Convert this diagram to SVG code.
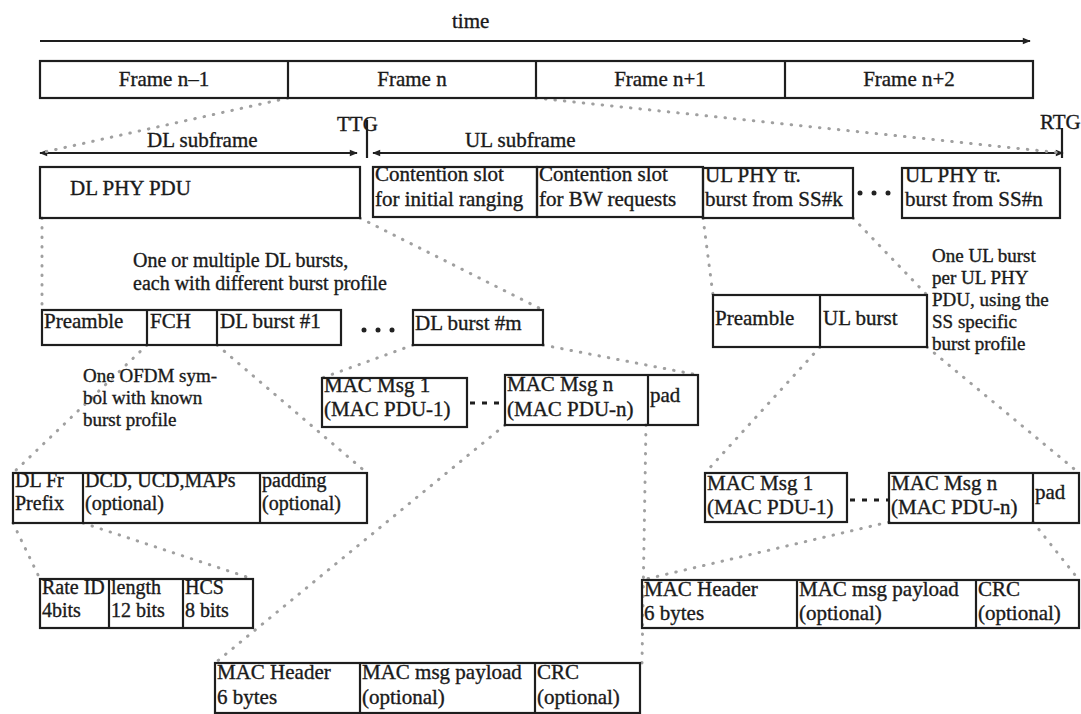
<svg xmlns="http://www.w3.org/2000/svg" width="1081" height="714" viewBox="0 0 1081 714">
<defs>
<marker id="arr" viewBox="0 0 10 10" refX="9" refY="5" markerWidth="10" markerHeight="8" orient="auto-start-reverse" markerUnits="userSpaceOnUse"><path d="M0,1 L10,5 L0,9 z" fill="#222"/></marker>
</defs>
<style>
.t{font-family:"Liberation Serif","Times New Roman",serif;font-size:21px;fill:#1a1a1a;stroke:#1a1a1a;stroke-width:0.35}
.s{font-size:20px}
.n{font-size:19px}
.b{fill:none;stroke:#1e1e1e;stroke-width:2.2}
.d{stroke:#a0a0a0;stroke-width:3;stroke-linecap:round;stroke-dasharray:0.5 9;fill:none}
.k{stroke:#1e1e1e;stroke-width:2.2;fill:none}
.e{fill:#222}
.m{stroke:#1e1e1e;stroke-width:3;stroke-dasharray:5 7;fill:none}
</style>
<rect width="1081" height="714" fill="#fff"/>
<g id="connectors">
<line class="k" x1="40" y1="41" x2="1030" y2="41" marker-end="url(#arr)"/>
<line class="k" x1="40" y1="153" x2="357" y2="153" marker-start="url(#arr)" marker-end="url(#arr)"/>
<line class="k" x1="373" y1="153" x2="1063" y2="153" marker-start="url(#arr)" marker-end="url(#arr)"/>
<line class="k" x1="367" y1="120" x2="367" y2="158"/>
<line class="k" x1="1062" y1="128" x2="1062" y2="158"/>
<line class="d" x1="288" y1="98" x2="40" y2="153"/>
<line class="d" x1="536" y1="98" x2="1062" y2="153"/>
<line class="d" x1="42" y1="218" x2="42" y2="310"/>
<line class="d" x1="360" y1="218" x2="543" y2="310"/>
<line class="d" x1="703" y1="218" x2="713" y2="295"/>
<line class="d" x1="853" y1="218" x2="927" y2="295"/>
<line class="d" x1="147" y1="345" x2="13" y2="473"/>
<line class="d" x1="217" y1="345" x2="367" y2="473"/>
<line class="d" x1="413" y1="345" x2="322" y2="378"/>
<line class="d" x1="543" y1="345" x2="698" y2="375"/>
<line class="d" x1="13" y1="523" x2="40" y2="579"/>
<line class="d" x1="83" y1="523" x2="253" y2="579"/>
<line class="d" x1="505" y1="425" x2="215" y2="663"/>
<line class="d" x1="646" y1="425" x2="642" y2="663"/>
<line class="d" x1="820" y1="347" x2="705" y2="473"/>
<line class="d" x1="927" y1="347" x2="1079" y2="473"/>
<line class="d" x1="889" y1="522" x2="642" y2="580"/>
<line class="d" x1="1033" y1="522" x2="1079" y2="580"/>
<line class="m" x1="470" y1="403" x2="505" y2="403"/>
<line class="m" x1="850" y1="500" x2="889" y2="500"/>
</g>
<g id="labels">
<text class="t" x="452" y="28">time</text>
<text class="t" x="147" y="147">DL subframe</text>
<text class="t" x="465" y="147">UL subframe</text>
<text class="t" x="337" y="131">TTG</text>
<text class="t" x="1040" y="129">RTG</text>
<text class="t s" x="133" y="267">One or multiple DL bursts,</text>
<text class="t s" x="133" y="290">each with different burst profile</text>
<text class="t n" x="83" y="382">One OFDM sym-</text>
<text class="t n" x="83" y="404">bol with known</text>
<text class="t n" x="83" y="426">burst profile</text>
<text class="t n" x="932" y="262">One UL burst</text>
<text class="t n" x="932" y="284">per UL PHY</text>
<text class="t n" x="932" y="306">PDU, using the</text>
<text class="t n" x="932" y="328">SS specific</text>
<text class="t n" x="932" y="350">burst profile</text>
</g>
<g id="frames">
<rect class="b" x="40" y="61" width="993" height="37"/>
<line class="k" x1="288" y1="61" x2="288" y2="98"/>
<line class="k" x1="536" y1="61" x2="536" y2="98"/>
<line class="k" x1="785" y1="61" x2="785" y2="98"/>
<text class="t" x="164" y="86" text-anchor="middle">Frame n–1</text>
<text class="t" x="412" y="86" text-anchor="middle">Frame n</text>
<text class="t" x="660" y="86" text-anchor="middle">Frame n+1</text>
<text class="t" x="909" y="86" text-anchor="middle">Frame n+2</text>
</g>
<g id="dl-phy-pdu">
<rect class="b" x="40" y="167" width="320" height="51"/>
<text class="t" x="70" y="195">DL PHY PDU</text>
</g>
<g id="contention-ranging">
<rect class="b" x="373" y="167" width="164" height="50"/>
<text class="t" x="375" y="181">Contention slot</text>
<text class="t" x="375" y="206">for initial ranging</text>
</g>
<g id="contention-bw">
<rect class="b" x="537" y="167" width="166" height="50"/>
<text class="t" x="539" y="181">Contention slot</text>
<text class="t" x="539" y="206">for BW requests</text>
</g>
<g id="ul-phy-k">
<rect class="b" x="703" y="168" width="150" height="50"/>
<text class="t" x="705" y="182">UL PHY tr.</text>
<text class="t" x="705" y="206">burst from SS#k</text>
</g>
<g id="ul-dots"><circle class="e" cx="860" cy="193" r="2.5"/><circle class="e" cx="874" cy="193" r="2.5"/><circle class="e" cx="888" cy="193" r="2.5"/></g>
<g id="ul-phy-n">
<rect class="b" x="902" y="168" width="158" height="50"/>
<text class="t" x="905" y="182">UL PHY tr.</text>
<text class="t" x="905" y="206">burst from SS#n</text>
</g>
<g id="dl-bursts">
<rect class="b" x="42" y="310" width="299" height="35"/>
<line class="k" x1="147" y1="310" x2="147" y2="345"/>
<line class="k" x1="217" y1="310" x2="217" y2="345"/>
<text class="t" x="44" y="328">Preamble</text>
<text class="t" x="150" y="328">FCH</text>
<text class="t" x="220" y="328">DL burst #1</text>
</g>
<g id="dl-dots"><circle class="e" cx="364" cy="330" r="2.5"/><circle class="e" cx="378" cy="330" r="2.5"/><circle class="e" cx="392" cy="330" r="2.5"/></g>
<g id="dl-burst-m">
<rect class="b" x="413" y="310" width="130" height="35"/>
<text class="t" x="415" y="330">DL burst #m</text>
</g>
<g id="ul-burst">
<rect class="b" x="713" y="295" width="214" height="52"/>
<line class="k" x1="820" y1="295" x2="820" y2="347"/>
<text class="t" x="715" y="325">Preamble</text>
<text class="t" x="823" y="325">UL burst</text>
</g>
<g id="dl-mac-msg-1">
<rect class="b" x="322" y="378" width="145" height="49"/>
<text class="t" x="324" y="392">MAC Msg 1</text>
<text class="t" x="324" y="416">(MAC PDU-1)</text>
</g>
<g id="dl-mac-msg-n">
<rect class="b" x="505" y="375" width="193" height="50"/>
<line class="k" x1="648" y1="375" x2="648" y2="425"/>
<text class="t" x="507" y="391">MAC Msg n</text>
<text class="t" x="507" y="416">(MAC PDU-n)</text>
<text class="t" x="650" y="402">pad</text>
</g>
<g id="fch-content">
<rect class="b" x="13" y="473" width="354" height="50"/>
<line class="k" x1="83" y1="473" x2="83" y2="523"/>
<line class="k" x1="260" y1="473" x2="260" y2="523"/>
<text class="t s" x="15" y="487">DL Fr</text>
<text class="t s" x="15" y="510">Prefix</text>
<text class="t s" x="85" y="487">DCD, UCD,MAPs</text>
<text class="t s" x="85" y="510">(optional)</text>
<text class="t s" x="262" y="487">padding</text>
<text class="t s" x="262" y="510">(optional)</text>
</g>
<g id="dl-frame-prefix">
<rect class="b" x="40" y="579" width="213" height="49"/>
<line class="k" x1="109" y1="579" x2="109" y2="628"/>
<line class="k" x1="183" y1="579" x2="183" y2="628"/>
<text class="t s" x="42" y="594">Rate ID</text>
<text class="t s" x="42" y="617">4bits</text>
<text class="t s" x="111" y="594">length</text>
<text class="t s" x="111" y="617">12 bits</text>
<text class="t s" x="185" y="594">HCS</text>
<text class="t s" x="185" y="617">8 bits</text>
</g>
<g id="dl-mac-pdu">
<rect class="b" x="215" y="663" width="425" height="50"/>
<line class="k" x1="360" y1="663" x2="360" y2="713"/>
<line class="k" x1="535" y1="663" x2="535" y2="713"/>
<text class="t" x="217" y="679">MAC Header</text>
<text class="t" x="217" y="704">6 bytes</text>
<text class="t" x="362" y="679">MAC msg payload</text>
<text class="t" x="362" y="704">(optional)</text>
<text class="t" x="537" y="679">CRC</text>
<text class="t" x="537" y="704">(optional)</text>
</g>
<g id="ul-mac-msg-1">
<rect class="b" x="705" y="473" width="142" height="49"/>
<text class="t" x="707" y="490">MAC Msg 1</text>
<text class="t" x="707" y="514">(MAC PDU-1)</text>
</g>
<g id="ul-mac-msg-n">
<rect class="b" x="889" y="473" width="190" height="50"/>
<line class="k" x1="1033" y1="473" x2="1033" y2="523"/>
<text class="t" x="891" y="490">MAC Msg n</text>
<text class="t" x="891" y="514">(MAC PDU-n)</text>
<text class="t" x="1035" y="499">pad</text>
</g>
<g id="ul-mac-pdu">
<rect class="b" x="642" y="580" width="437" height="48"/>
<line class="k" x1="797" y1="580" x2="797" y2="628"/>
<line class="k" x1="976" y1="580" x2="976" y2="628"/>
<text class="t" x="644" y="596">MAC Header</text>
<text class="t" x="644" y="620">6 bytes</text>
<text class="t" x="799" y="596">MAC msg payload</text>
<text class="t" x="799" y="620">(optional)</text>
<text class="t" x="978" y="596">CRC</text>
<text class="t" x="978" y="620">(optional)</text>
</g>
</svg>
